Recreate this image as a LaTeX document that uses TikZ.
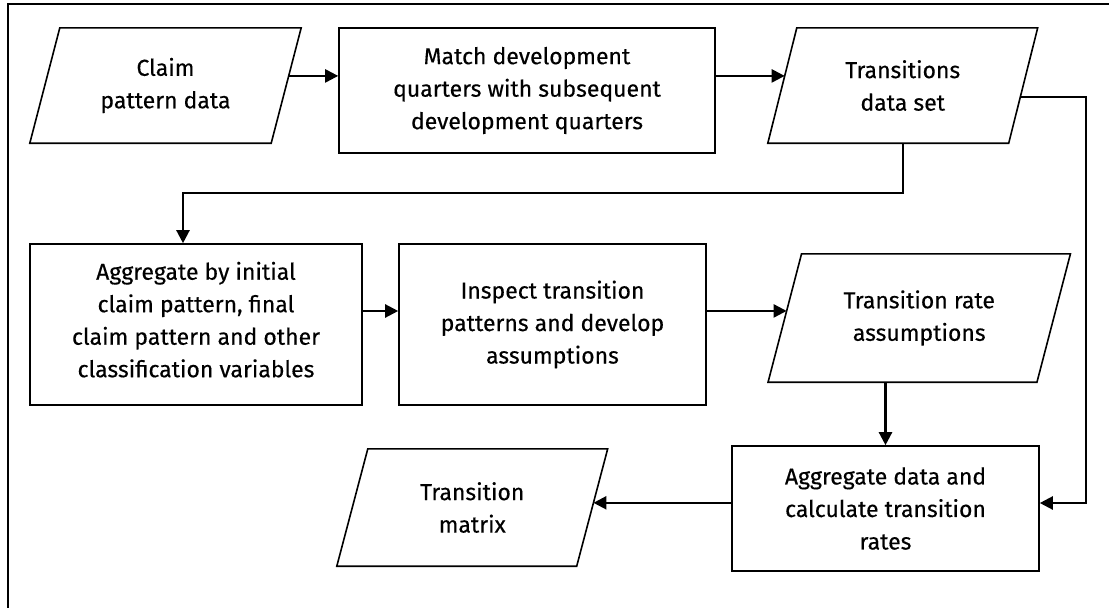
\documentclass[tikz,border=0pt]{standalone}
\usepackage{fontspec}
\setmainfont{Fira Sans}[UprightFeatures={FakeBold=0.35}]
\usetikzlibrary{arrows.meta,calc}
\newcommand\mkpara[2]{%
  \coordinate (#1-tl) at ([xshift=#2]#1.north west);
  \coordinate (#1-tr) at ([xshift=#2]#1.north east);
  \coordinate (#1-bl) at ([xshift=-#2]#1.south west);
  \coordinate (#1-br) at ([xshift=-#2]#1.south east);
  \draw[shapeline] (#1-bl) -- (#1-tl) -- (#1-tr) -- (#1-br) -- cycle;}
\begin{document}
\begin{tikzpicture}[x=1pt,y=-1pt,
  shapeline/.style={line width=1.6pt, line join=miter},
  txt/.style={rectangle, inner sep=0pt, align=center, font=\fontsize{23}{32.5}\selectfont},
  boxnode/.style={txt, draw, line width=1.6pt},
  paranode/.style={txt},
  conn/.style={line width=2.3pt, -{Triangle[length=13pt,width=13pt]}}]
\useasboundingbox (0,0) rectangle (1109,608);
\draw[line width=2.6pt] (8,612) -- (8,4) -- (1113,4);

% nodes
\node[paranode, minimum width=241pt, minimum height=115pt] (claim) at (165.5,85.5) {Claim\\pattern data};
\mkpara{claim}{15pt}
\node[boxnode, minimum width=376pt, minimum height=125pt] (match) at (527,90.5) {Match development\\quarters with subsequent\\development quarters};
\node[paranode, minimum width=240.5pt, minimum height=115pt] (tds) at (902.75,85.5) {Transitions\\data set};
\mkpara{tds}{14.5pt}
\node[boxnode, minimum width=332pt, minimum height=161pt, text depth=10pt] (agg) at (196,324.5) {Aggregate by initial\\claim pattern, final\\claim pattern and other\\classification variables};
\node[boxnode, minimum width=307pt, minimum height=161pt] (insp) at (552.5,324.5) {Inspect transition\\patterns and develop\\assumptions};
\node[paranode, minimum width=268.5pt, minimum height=128pt] (tra) at (919.25,318) {Transition rate\\assumptions};
\mkpara{tra}{16.75pt}
\node[boxnode, minimum width=307pt, minimum height=125pt] (aggd) at (885.5,508.5) {Aggregate data and\\calculate transition\\rates};
\node[paranode, minimum width=239.5pt, minimum height=117pt] (tm) at (472.25,507.5) {Transition\\matrix};
\mkpara{tm}{15.5pt}

\coordinate (rline) at (1086,0);
\coordinate (ade) at ([yshift=5.5pt]aggd.east);

% connectors
\coordinate (c1) at ($(claim-tr)!0.417!(claim-br)$);
\draw[conn] (c1) -- (c1 -| match.west);
\coordinate (c2) at ($(tds-tl)!0.417!(tds-bl)$);
\draw[conn] (c2 -| match.east) -- (c2);
\draw[conn] (tds.south) -- ++(0,50) -| ([xshift=-13pt]agg.north);
\draw[conn] ([yshift=13.5pt]agg.east) -- ([yshift=13.5pt]agg.east -| insp.west);
\coordinate (c5) at ($(tra-tl)!0.445!(tra-bl)$);
\draw[conn] (c5 -| insp.east) -- (c5);
\draw[conn] (aggd.north |- tra.south) -- (aggd.north);
\coordinate (c7) at ($(tds-tr)!0.6!(tds-br)$);
\draw[conn] (c7) -| (rline |- ade) -- (ade);
\coordinate (c8) at ($(tm-tr)!0.46!(tm-br)$);
\draw[conn] (c8 -| aggd.west) -- (c8);
\end{tikzpicture}
\end{document}
